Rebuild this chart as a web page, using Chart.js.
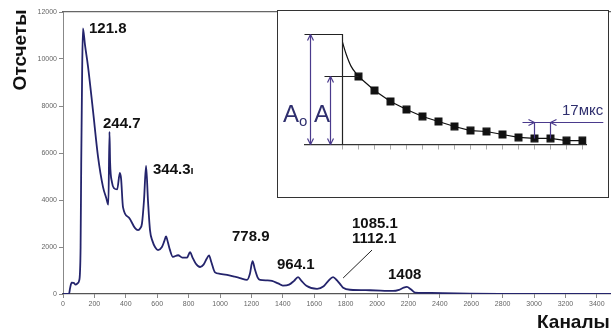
<!DOCTYPE html>
<html lang="ru">
<head>
<meta charset="UTF-8">
<title>Спектр Eu-152</title>
<script src="https://cdn.jsdelivr.net/npm/chart.js"></script>
<style>
    body {
        margin: 0;
        background: #fff;
    }

    .wrap {
        position: relative;
        width: 611px;
        height: 336px;
        overflow: hidden;
        font-family: "Liberation Sans", Arial, sans-serif;
    }

    #spectrum {
        position: absolute;
        left: 0;
        top: 0;
    }

    .peak {
        position: absolute;
        font-weight: bold;
        font-size: 15px;
        line-height: 1;
        color: #111;
        white-space: nowrap;
    }

    .axis-title {
        position: absolute;
        font-weight: bold;
        font-size: 19px;
        line-height: 1;
        color: #111;
        white-space: nowrap;
    }

    .y-title {
        left: 19px;
        top: 50px;
        transform: translate(-50%, -50%) rotate(-90deg);
    }

    .inset {
        position: absolute;
        left: 277px;
        top: 10px;
        width: 332px;
        height: 188px;
        box-sizing: border-box;
        border: 1.5px solid #333;
        background: #fff;
    }

    #decay {
        position: absolute;
        left: 0;
        top: 0;
    }

    .inset-text {
        position: absolute;
        line-height: 1;
        color: #2f2f6e;
        white-space: nowrap;
    }

    .amp {
        font-size: 24px;
    }

    .amp sub {
        font-size: 15px;
        vertical-align: -4px;
    }
</style>
</head>
<body>
<div class="wrap">
    <canvas id="spectrum" width="611" height="336"></canvas>

    <div class="axis-title y-title">Отсчеты</div>
    <div class="axis-title" style="left:537px; top:312px;">Каналы</div>

    <div class="peak" style="left:89px; top:20px;">121.8</div>
    <div class="peak" style="left:103px; top:115px;">244.7</div>
    <div class="peak" style="left:153px; top:161px;">344.3<span style="font-size:11px;">ı</span></div>
    <div class="peak" style="left:232px; top:228px;">778.9</div>
    <div class="peak" style="left:277px; top:256px;">964.1</div>
    <div class="peak" style="left:352px; top:215px;">1085.1</div>
    <div class="peak" style="left:352px; top:230px;">1112.1</div>
    <div class="peak" style="left:388px; top:266px;">1408</div>

    <div class="inset">
        <canvas id="decay" width="329" height="185"></canvas>
    </div>
    <div class="inset-text amp" style="left:283px; top:102px;">A<sub>o</sub></div>
    <div class="inset-text amp" style="left:314px; top:102px;">A</div>
    <div class="inset-text" style="left:562px; top:102px; font-size:15px;">17мкс</div>
</div>

<script>
    // спектр: канал -> отсчеты
    const channels = [0, 38, 45, 55, 68, 80, 92, 102, 108, 112, 116, 122, 127, 140, 159, 191, 223, 255, 275,
        289, 296, 300, 312, 325, 345, 362, 370, 382, 420, 459, 478, 492, 503, 516, 529, 541, 554, 570, 586,
        605, 630, 645, 656, 668, 680, 700, 733, 760, 790, 809, 825, 845, 873, 895, 915, 930, 945, 968,
        1000, 1045, 1090, 1127, 1172, 1190, 1207, 1222, 1240, 1255, 1300, 1331, 1370, 1400, 1440, 1470,
        1497, 1520, 1550, 1618, 1660, 1690, 1720, 1745, 1770, 1784, 1828, 1956, 2102, 2140, 2170, 2190,
        2215, 2242, 2300, 2420, 2590, 2800, 3000, 3490];
    const counts = [0, 0, 250, 480, 470, 400, 450, 550, 900, 2000, 5500, 9500, 11300, 10600, 9700, 7800, 5850,
        4550, 4100, 3800, 6900, 5600, 4750, 4500, 4450, 5150, 4900, 3700, 3250, 2800, 2720, 2800, 3000,
        4000, 5450, 4000, 2720, 2250, 2000, 1870, 2000, 2250, 2450, 2200, 1900, 1580, 1650, 1550, 1550,
        1780, 1550, 1300, 1150, 1250, 1500, 1640, 1350, 920, 860, 810, 740, 680, 600, 850, 1400, 1050,
        700, 600, 580, 560, 450, 360, 400, 550, 720, 550, 350, 220, 330, 560, 720, 580, 380, 270, 180,
        160, 130, 180, 270, 300, 200, 60, 45, 40, 15, 5, 3, 0];
    const xTicks = [0, 200, 400, 600, 800, 1000, 1200, 1400, 1600, 1800, 2000, 2200, 2400, 2600, 2800,
        3000, 3200, 3400];
    const yTicks = [0, 2000, 4000, 6000, 8000, 10000, 12000];

    // вставка: спад амплитуды (A0 = 100)
    const headT = [0, 0.23, 0.54, 1];
    const headA = [93, 82, 71, 61.8];
    const decayT = [1, 2, 3, 4, 5, 6, 7, 8, 9, 10, 11, 12, 13, 14, 15];
    const decayA = [61.8, 49.1, 39.1, 31.8, 25.5, 20.9, 16.4, 12.7, 11.8, 9.1, 6.4, 5.5, 5.5, 3.6, 3.6];
    const insetTicks = [0, 1, 2, 3, 4, 5, 6, 7, 8, 9, 10, 11, 12, 13, 14, 15];

    const toPoints = (xs, ys) => xs.map((x, i) => ({ x: x, y: ys[i] }));

    const leaderLine = {
        id: 'leaderLine',
        afterDatasetsDraw(chart) {
            const { ctx, scales: { x, y } } = chart;
            ctx.save();
            ctx.strokeStyle = '#222';
            ctx.lineWidth = 1;
            ctx.beginPath();
            ctx.moveTo(x.getPixelForValue(1968), y.getPixelForValue(1870));
            ctx.lineTo(x.getPixelForValue(1784), y.getPixelForValue(680));
            ctx.stroke();
            ctx.restore();
        }
    };

    const tickFont = { size: 7, family: 'Liberation Sans' };

    new Chart(document.getElementById('spectrum'), {
        type: 'line',
        data: {
            datasets: [{
                data: toPoints(channels, counts),
                borderColor: '#24246c',
                borderWidth: 1.8,
                pointRadius: 0,
                cubicInterpolationMode: 'monotone'
            }]
        },
        options: {
            responsive: false,
            animation: false,
            layout: { padding: 0, autoPadding: false },
            plugins: { legend: { display: false }, tooltip: { enabled: false } },
            scales: {
                x: {
                    type: 'linear',
                    min: 0,
                    max: 3490,
                    afterBuildTicks: axis => {
                        axis.ticks = xTicks.map(v => ({ value: v }));
                    },
                    afterFit: axis => { axis.height = 42; },
                    ticks: {
                        maxRotation: 0,
                        autoSkip: false,
                        padding: 2,
                        color: '#666',
                        font: tickFont,
                        callback: v => String(v)
                    },
                    grid: { drawOnChartArea: false, tickLength: 4, color: '#888' },
                    border: { color: '#555', width: 1.2 }
                },
                xTop: {
                    type: 'linear',
                    position: 'top',
                    min: 0,
                    max: 3490,
                    afterFit: axis => { axis.height = 12; },
                    ticks: { display: false },
                    grid: { drawOnChartArea: false, drawTicks: false },
                    border: { color: '#666', width: 1.2 }
                },
                y: {
                    min: 0,
                    max: 12000,
                    afterBuildTicks: axis => {
                        axis.ticks = yTicks.map(v => ({ value: v }));
                    },
                    afterFit: axis => { axis.width = 63; },
                    ticks: {
                        padding: 2,
                        color: '#666',
                        font: tickFont,
                        callback: v => String(v)
                    },
                    grid: { drawOnChartArea: false, tickLength: 4, color: '#888' },
                    border: { color: '#888', width: 1 }
                }
            }
        },
        plugins: [leaderLine]
    });

    function arrowHead(ctx, x, y, dx, dy) {
        const len = 6, wid = 3;
        ctx.beginPath();
        ctx.moveTo(x, y);
        ctx.lineTo(x - dx * len - dy * wid, y - dy * len + dx * wid);
        ctx.moveTo(x, y);
        ctx.lineTo(x - dx * len + dy * wid, y - dy * len - dx * wid);
        ctx.stroke();
    }

    const insetMarks = {
        id: 'insetMarks',
        afterDatasetsDraw(chart) {
            const { ctx, scales: { x, y } } = chart;
            const px = v => x.getPixelForValue(v);
            const py = v => y.getPixelForValue(v);
            ctx.save();
            ctx.lineWidth = 1.2;

            // уровни A0 и A
            ctx.strokeStyle = '#222';
            ctx.beginPath();
            ctx.moveTo(px(-2.375), py(100));
            ctx.lineTo(px(0), py(100));
            ctx.lineTo(px(0), py(0));
            ctx.moveTo(px(-1.125), py(61.8));
            ctx.lineTo(px(1), py(61.8));
            ctx.stroke();

            // двойные стрелки
            ctx.strokeStyle = '#4a3a8c';
            [[-2, 100], [-0.75, 61.8]].forEach(([t, a]) => {
                ctx.beginPath();
                ctx.moveTo(px(t), py(0));
                ctx.lineTo(px(t), py(a));
                ctx.stroke();
                arrowHead(ctx, px(t), py(a), 0, -1);
                arrowHead(ctx, px(t), py(0), 0, 1);
            });

            // интервал 17 мкс
            ctx.beginPath();
            ctx.moveTo(px(11.25), py(20));
            ctx.lineTo(px(16.3), py(20));
            ctx.moveTo(px(12), py(20));
            ctx.lineTo(px(12), py(5.5));
            ctx.moveTo(px(13), py(20));
            ctx.lineTo(px(13), py(5.5));
            ctx.stroke();
            arrowHead(ctx, px(12), py(20), 1, 0);
            arrowHead(ctx, px(13), py(20), -1, 0);
            ctx.restore();
        }
    };

    new Chart(document.getElementById('decay'), {
        type: 'line',
        data: {
            datasets: [{
                data: toPoints(headT, headA),
                borderColor: '#111',
                borderWidth: 1.2,
                pointRadius: 0,
                cubicInterpolationMode: 'monotone'
            }, {
                data: toPoints(decayT, decayA),
                borderColor: '#111',
                borderWidth: 1.2,
                pointStyle: 'rect',
                pointRadius: 4.8,
                pointBackgroundColor: '#111',
                pointBorderColor: '#111'
            }]
        },
        options: {
            responsive: false,
            animation: false,
            layout: { padding: { left: 26.5, right: 20.5, top: 23.5, bottom: 0 }, autoPadding: false },
            plugins: { legend: { display: false }, tooltip: { enabled: false } },
            scales: {
                x: {
                    type: 'linear',
                    min: -2.375,
                    max: 15.25,
                    afterBuildTicks: axis => {
                        axis.ticks = insetTicks.map(v => ({ value: v }));
                    },
                    afterFit: axis => { axis.height = 51.5; },
                    ticks: { display: false },
                    grid: { drawOnChartArea: false, tickLength: 5, color: '#aaa' },
                    border: { color: '#333', width: 1.2 }
                },
                y: {
                    display: false,
                    min: 0,
                    max: 100
                }
            }
        },
        plugins: [insetMarks]
    });
</script>
</body>
</html>
